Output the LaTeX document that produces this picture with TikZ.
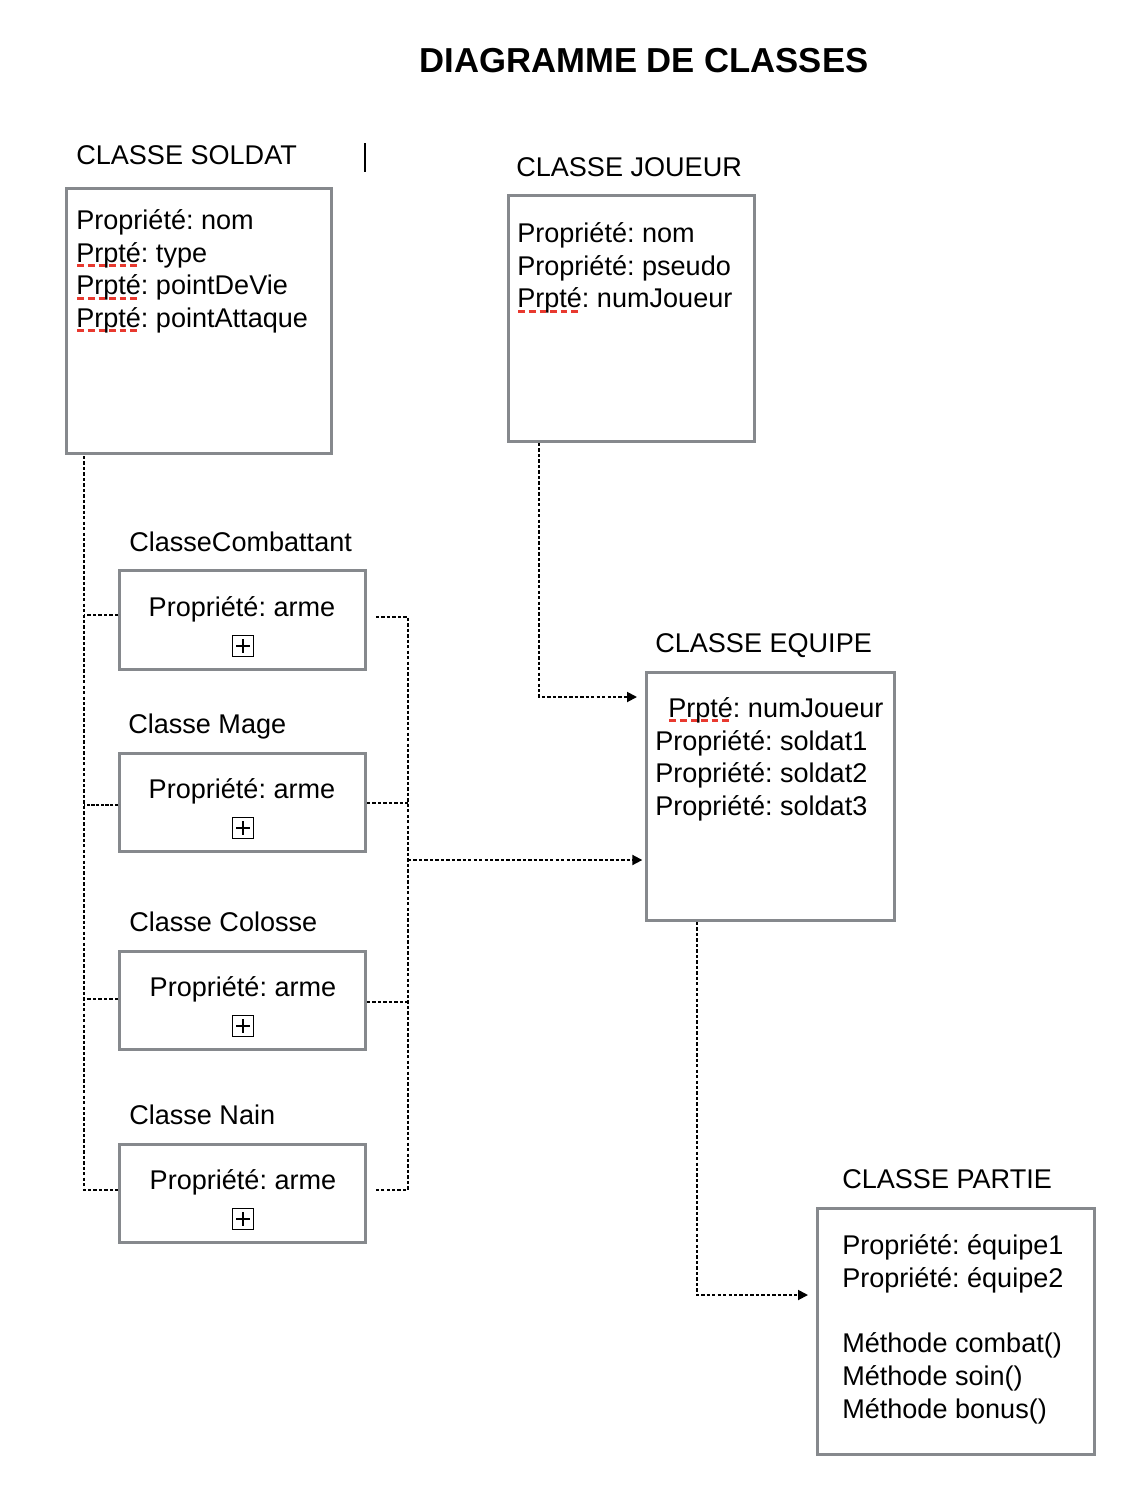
\documentclass[tikz,border=0pt]{standalone}
\usepackage{fontspec}
\setmainfont{Liberation Sans}
\frenchspacing
\usetikzlibrary{arrows.meta, calc, fit}
\definecolor{bordgris}{RGB}{134,137,141}
\definecolor{rougefaute}{RGB}{232,57,47}
\newsavebox{\fautebox}
\newcommand{\faute}[1]{\sbox{\fautebox}{#1}\rlap{\raisebox{-3.6pt}{\color{rougefaute}\hbox to \wd\fautebox{\xleaders\hbox to 7.2pt{\rule{5pt}{2.3pt}\hss}\hfill}}}\usebox{\fautebox}}
\tikzset{
    classe/.style={draw=bordgris, line width=2.25pt, fill=white, inner sep=0pt},
    texte/.style={font=\fontsize{20.3}{24.6}\selectfont, inner sep=0pt, align=left, execute at begin node=\strut},
    titre/.style={font=\bfseries\fontsize{26}{31}\selectfont, inner sep=0pt, anchor=base},
    lien/.style={line width=1.4pt, dash pattern=on 2.5pt off 1.6pt},
    fleche/.style={lien, -{Triangle[length=7.5pt, width=7.5pt]}},
    boiteplus/.style={draw, line width=0.8pt, minimum size=15.5pt, inner sep=0pt,
        path picture={
            \draw[line width=0.8pt] ([xshift=2.5pt]path picture bounding box.west) -- ([xshift=-2.5pt]path picture bounding box.east);
            \draw[line width=0.8pt] ([yshift=-2.5pt]path picture bounding box.north) -- ([yshift=2.5pt]path picture bounding box.south);
        }}
}
\begin{document}
\begin{tikzpicture}[x=0.75pt, y=-0.75pt]
            \fill[white] (0,0) rectangle (1134,1510);
            \useasboundingbox (0,0) rectangle (1134,1510);

            \node[titre] (titre) at (644,72) {DIAGRAMME DE CLASSES};

            % Classes:
            \node[classe, fit={(66.5,188.5) (331.5,453.5)}] (soldat) {};
            \node[classe, fit={(508.5,195.5) (754.5,441.5)}] (joueur) {};
            \node[classe, fit={(119.5,570.5) (365.5,669.5)}] (combat) {};
            \node[classe, fit={(119.5,753.5) (365.5,851.5)}] (mage) {};
            \node[classe, fit={(119.5,951.5) (365.5,1049.5)}] (colosse) {};
            \node[classe, fit={(119.5,1144.5) (365.5,1242.5)}] (nain) {};
            \node[classe, fit={(646.5,672.5) (894.5,920.5)}] (equipe) {};
            \node[classe, fit={(817.5,1208.5) (1094.5,1454.5)}] (partie) {};

            % Noms des classes:
            \node[texte, anchor=base west] (nomsoldat) at (76,164) {CLASSE SOLDAT};
            \draw[line width=1.5pt] (365,143) -- (365,172);
            \node[texte, anchor=base west] (nomjoueur) at (516,176) {CLASSE JOUEUR};
            \node[texte, anchor=base west] (nomcombat) at (129,551) {ClasseCombattant};
            \node[texte, anchor=base west] (nommage) at (128,733) {Classe Mage};
            \node[texte, anchor=base west] (nomcolosse) at (129,931) {Classe Colosse};
            \node[texte, anchor=base west] (nomnain) at (129,1124) {Classe Nain};
            \node[texte, anchor=base west] (nomequipe) at (655,652) {CLASSE EQUIPE};
            \node[texte, anchor=base west] (nompartie) at (842,1188) {CLASSE PARTIE};

            % Proprietes:
            \node[texte, anchor=north west] (propsoldat) at (76,209)
                {Propriété: nom\\\faute{Prpté}: type\\\faute{Prpté}: pointDeVie\\\faute{Prpté}: pointAttaque};
            \node[texte, anchor=north west] (propjoueur) at (517,222)
                {Propriété: nom\\Propriété: pseudo\\\faute{Prpté}: numJoueur};
            \node[texte, anchor=north west] (propequipe) at (655,697)
                {\hspace*{9.75pt}\faute{Prpté}: numJoueur\\Propriété: soldat1\\Propriété: soldat2\\Propriété: soldat3};
            \node[texte, anchor=north west] (proppartie) at (842,1234)
                {Propriété: équipe1\\Propriété: équipe2\\[24.6pt]Méthode combat()\\Méthode soin()\\Méthode bonus()};

            \node[texte, anchor=base] (armecombat) at (242,616) {Propriété: arme};
            \node[texte, anchor=base] (armemage) at (242,798) {Propriété: arme};
            \node[texte, anchor=base] (armecolosse) at (243,996) {Propriété: arme};
            \node[texte, anchor=base] (armenain) at (243,1189) {Propriété: arme};
            \node[boiteplus] (pluscombat) at (243,646) {};
            \node[boiteplus] (plusmage) at (243,828) {};
            \node[boiteplus] (pluscolosse) at (243,1026) {};
            \node[boiteplus] (plusnain) at (243,1219) {};

            % Liens:
            \coordinate (trg) at (84,456);
            \coordinate (trd) at (408,617);
            \coordinate (jonction) at (408,860);
            \coordinate (arrivee) at (637,697);
            \coordinate (arrivee2) at (808,1295);

            \draw[lien] (trg) |- ([yshift=2.6pt]nain.west);
            \draw[lien] ([yshift=3.75pt]combat.west) -- ([yshift=3.75pt]combat.west -| trg);
            \draw[lien, line width=1.8pt, dash pattern=on 2.5pt off 1pt] ([yshift=-1.9pt]mage.west) -- ([yshift=-1.9pt]mage.west -| trg);
            \draw[lien] ([yshift=1.1pt]colosse.west) -- ([yshift=1.1pt]colosse.west -| trg);

            \draw[lien] ([xshift=6.75pt, yshift=2.25pt]combat.east) -| ([yshift=2.6pt]nain.east -| trd)
                        -- ([xshift=6.75pt, yshift=2.6pt]nain.east);
            \draw[lien] ([yshift=-0.4pt]mage.east) -- ([yshift=-0.4pt]mage.east -| trd);
            \draw[lien] ([yshift=-1.1pt]colosse.east) -- ([yshift=-1.1pt]colosse.east -| trd);
            \draw[fleche] (jonction) -- ([xshift=-2pt]jonction -| equipe.west);

            \draw[fleche] ([xshift=24pt]joueur.south west) |- (arrivee);
            \draw[fleche] ([xshift=39pt]equipe.south west) |- (arrivee2);
\end{tikzpicture}
\end{document}
